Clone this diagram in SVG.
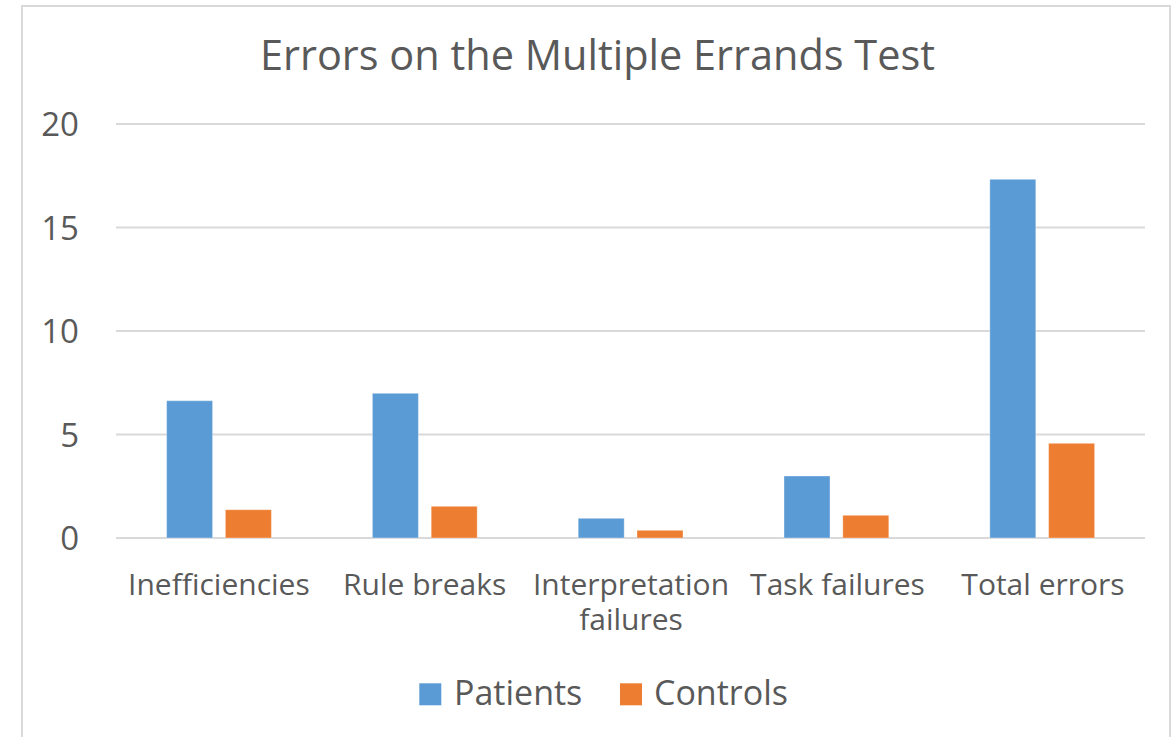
<svg xmlns="http://www.w3.org/2000/svg" width="1173" height="737" viewBox="0 0 1173 737">
<style>
.t{font-family:"Open Sans","Noto Sans","DejaVu Sans",sans-serif;fill:#595959}
.grid{stroke:#d9d9d9;stroke-width:2}
.pat{fill:#5b9bd5;stroke:#ffffff;stroke-opacity:0.35;stroke-width:1}
.con{fill:#ed7d31;stroke:#ffffff;stroke-opacity:0.35;stroke-width:1}
</style>
<rect x="0" y="0" width="1173" height="737" fill="#ffffff"/>
<rect id="chart-frame" x="22" y="6" width="1148" height="740" fill="#ffffff" stroke="#d9d9d9" stroke-width="2"/>
<text id="title" class="t" x="597.5" y="70" font-size="41.5" text-anchor="middle" textLength="675" lengthAdjust="spacingAndGlyphs">Errors on the Multiple Errands Test</text>
<g id="gridlines">
<line class="grid" x1="116" y1="124" x2="1145" y2="124"/>
<line class="grid" x1="116" y1="227.5" x2="1145" y2="227.5"/>
<line class="grid" x1="116" y1="331" x2="1145" y2="331"/>
<line class="grid" x1="116" y1="434.5" x2="1145" y2="434.5"/>
<line class="grid" x1="116" y1="538" x2="1145" y2="538"/>
</g>
<g id="y-axis-labels" class="t" font-size="33" text-anchor="end">
<text x="79" y="136">20</text>
<text x="79" y="239.5">15</text>
<text x="79" y="343">10</text>
<text x="79" y="446.5">5</text>
<text x="79" y="550">0</text>
</g>
<g id="series-patients">
<rect class="pat" x="166.6" y="400.7" width="46" height="137.3"/>
<rect class="pat" x="372.4" y="393.3" width="46" height="144.7"/>
<rect class="pat" x="578.2" y="518.3" width="46" height="19.7"/>
<rect class="pat" x="784" y="476" width="46" height="62"/>
<rect class="pat" x="989.8" y="179.3" width="46" height="358.7"/>
</g>
<g id="series-controls">
<rect class="con" x="225.4" y="509.7" width="46" height="28.3"/>
<rect class="con" x="431.2" y="506.3" width="46" height="31.7"/>
<rect class="con" x="637" y="530.3" width="46" height="7.7"/>
<rect class="con" x="842.8" y="515.3" width="46" height="22.7"/>
<rect class="con" x="1048.6" y="443.3" width="46" height="94.7"/>
</g>
<g id="x-axis-labels" class="t" font-size="30" text-anchor="middle">
<text x="218.9" y="595">Inefficiencies</text>
<text x="424.7" y="595">Rule breaks</text>
<text x="631" y="595"><tspan x="631" y="595">Interpretation</tspan><tspan x="631" y="630">failures</tspan></text>
<text x="837.5" y="595">Task failures</text>
<text x="1043" y="595">Total errors</text>
</g>
<g id="legend">
<g id="legend-patients">
<rect x="419.3" y="683.3" width="22" height="22" fill="#5b9bd5"/>
<text class="t" x="454" y="705.3" font-size="34">Patients</text>
</g>
<g id="legend-controls">
<rect x="620" y="683.3" width="22" height="22" fill="#ed7d31"/>
<text class="t" x="654" y="705.3" font-size="34">Controls</text>
</g>
</g>
</svg>
